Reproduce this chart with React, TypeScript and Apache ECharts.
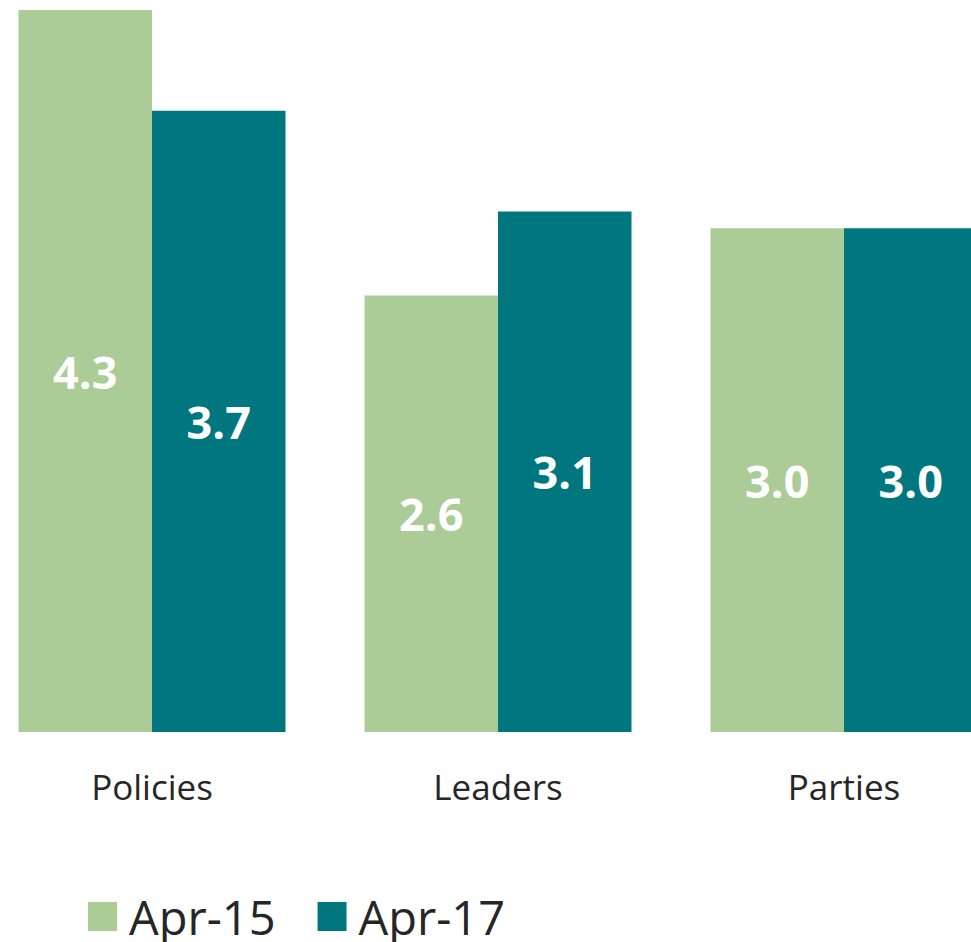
import React, { useEffect, useRef } from "react";
import * as echarts from "echarts";

const categories = ["Policies", "Leaders", "Parties"];
const seriesNames = ["Apr-15", "Apr-17"];
const apr15 = [4.3, 2.6, 3.0];
const apr17 = [3.7, 3.1, 3.0];
const colors = ["#ABCC96", "#00767E"];

export default function App() {
  const ref = useRef<HTMLDivElement>(null);
  useEffect(() => {
    if (!ref.current) return;
    const chart = echarts.init(ref.current, null, { renderer: "svg" });
    const font = "'Open Sans', 'Noto Sans', sans-serif";
    const labelCfg = {
      show: true,
      position: "inside",
      color: "#ffffff",
      fontWeight: "bold",
      fontSize: 45,
      fontFamily: font,
      formatter: (p: any) => Number(p.value).toFixed(1),
    };
    chart.setOption({
      animation: false,
      color: colors,
      grid: { left: 0, right: 0, top: 10, bottom: 210, containLabel: false },
      xAxis: {
        type: "category",
        data: categories,
        axisLine: { show: false },
        axisTick: { show: false },
        axisLabel: { color: "#262626", fontSize: 35, fontFamily: font, margin: 37 },
      },
      yAxis: { type: "value", min: 0, max: 4.3, show: false, splitLine: { show: false } },
      legend: {
        data: seriesNames,
        left: 104,
        top: 888,
        icon: "rect",
        itemWidth: 29,
        itemHeight: 29,
        itemGap: 42,
        textStyle: { color: "#262626", fontSize: 47, lineHeight: 46, fontFamily: font, padding: [0, 0, 0, 7] },
      },
      series: [
        { name: seriesNames[0], type: "bar", data: apr15, barWidth: 133.5, barGap: "0%", label: labelCfg },
        { name: seriesNames[1], type: "bar", data: apr17, barWidth: 133.5, barGap: "0%", label: labelCfg },
      ],
    });
    return () => chart.dispose();
  }, []);
  return (
    <div style={{ position: "fixed", left: 0, top: 0, width: 971, height: 942, overflow: "hidden", background: "#fff" }}>
      <div ref={ref} style={{ position: "absolute", left: -21, top: 0, width: 1038, height: 942 }} />
    </div>
  );
}
